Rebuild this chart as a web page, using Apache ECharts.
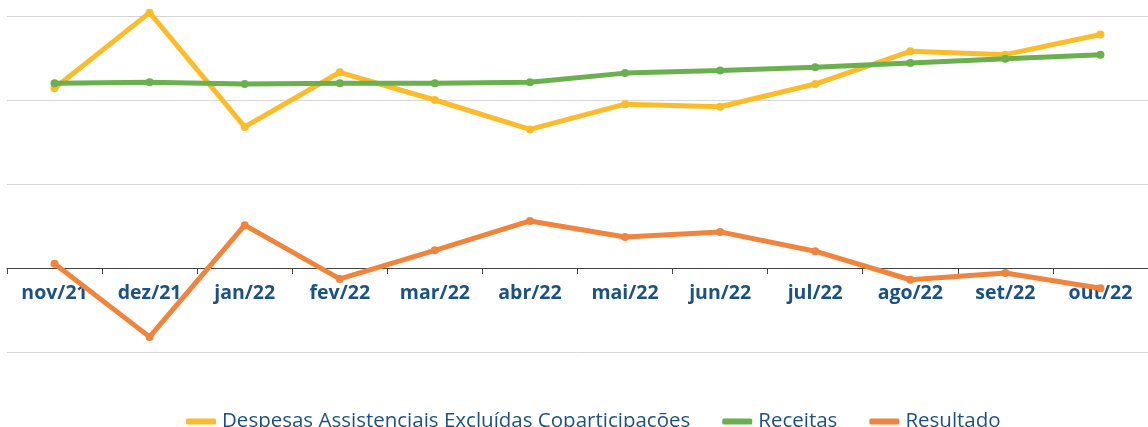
<!DOCTYPE html>
<html>
<head>
<meta charset="utf-8">
<script src="https://cdn.jsdelivr.net/npm/echarts@6/dist/echarts.min.js"></script>
<style>
    html, body { margin: 0; padding: 0; background: #fff; }
    #chart { width: 1148px; height: 427px; }
</style>
</head>
<body>
<div id="chart"></div>
<script>
    // meses
    var meses = ['nov/21', 'dez/21', 'jan/22', 'fev/22', 'mar/22', 'abr/22', 'mai/22', 'jun/22', 'jul/22', 'ago/22', 'set/22', 'out/22'];
    // valores (escala relativa)
    var despesas = [2.14, 3.04, 1.68, 2.33, 2.00, 1.65, 1.95, 1.92, 2.19, 2.58, 2.54, 2.78];
    var receitas = [2.20, 2.21, 2.19, 2.20, 2.20, 2.21, 2.32, 2.35, 2.39, 2.44, 2.49, 2.54];
    var resultado = [0.05, -0.82, 0.51, -0.13, 0.21, 0.56, 0.37, 0.43, 0.20, -0.14, -0.06, -0.24];

    var corTexto = '#1b5282';

    function serie(nome, dados, cor) {
        return {
            name: nome,
            type: 'line',
            data: dados,
            clip: false,
            symbol: 'circle',
            symbolSize: 8,
            lineStyle: { width: 5, color: cor },
            itemStyle: { color: cor },
            emphasis: { disabled: true }
        };
    }

    var chart = echarts.init(document.getElementById('chart'));
    chart.setOption({
        animation: false,
        grid: { left: 7, top: 16, width: 1145, height: 336 },
        legend: {
            bottom: -10,
            left: 181,
            itemGap: 32,
            itemWidth: 30,
            itemHeight: 6,
            icon: 'roundRect',
            textStyle: { color: corTexto, fontSize: 20.5, fontFamily: 'Open Sans', padding: [0, 0, 0, 1] },
            data: ['Despesas Assistenciais Excluídas Coparticipações', 'Receitas', 'Resultado']
        },
        xAxis: {
            type: 'category',
            data: meses,
            boundaryGap: true,
            // eixo na linha do zero (84 px acima da base)
            axisLine: { show: true, onZero: false, lineStyle: { color: '#444', width: 1 } },
            offset: -84,
            axisTick: { show: true, interval: 0, length: 6, lineStyle: { color: '#444', width: 1 } },
            axisLabel: {
                margin: 15,
                color: corTexto,
                fontSize: 19.5,
                fontWeight: 'bold',
                fontFamily: 'Open Sans'
            }
        },
        yAxis: {
            type: 'value',
            min: -1,
            max: 3,
            interval: 1,
            axisLabel: { show: false },
            axisLine: { show: false },
            axisTick: { show: false },
            splitLine: { lineStyle: { color: '#d6d6d6', width: 1 } }
        },
        series: [
            serie('Despesas Assistenciais Excluídas Coparticipações', despesas, '#fbbc2b'),
            serie('Receitas', receitas, '#6ab04f'),
            serie('Resultado', resultado, '#f0843c')
        ]
    });
</script>
</body>
</html>
